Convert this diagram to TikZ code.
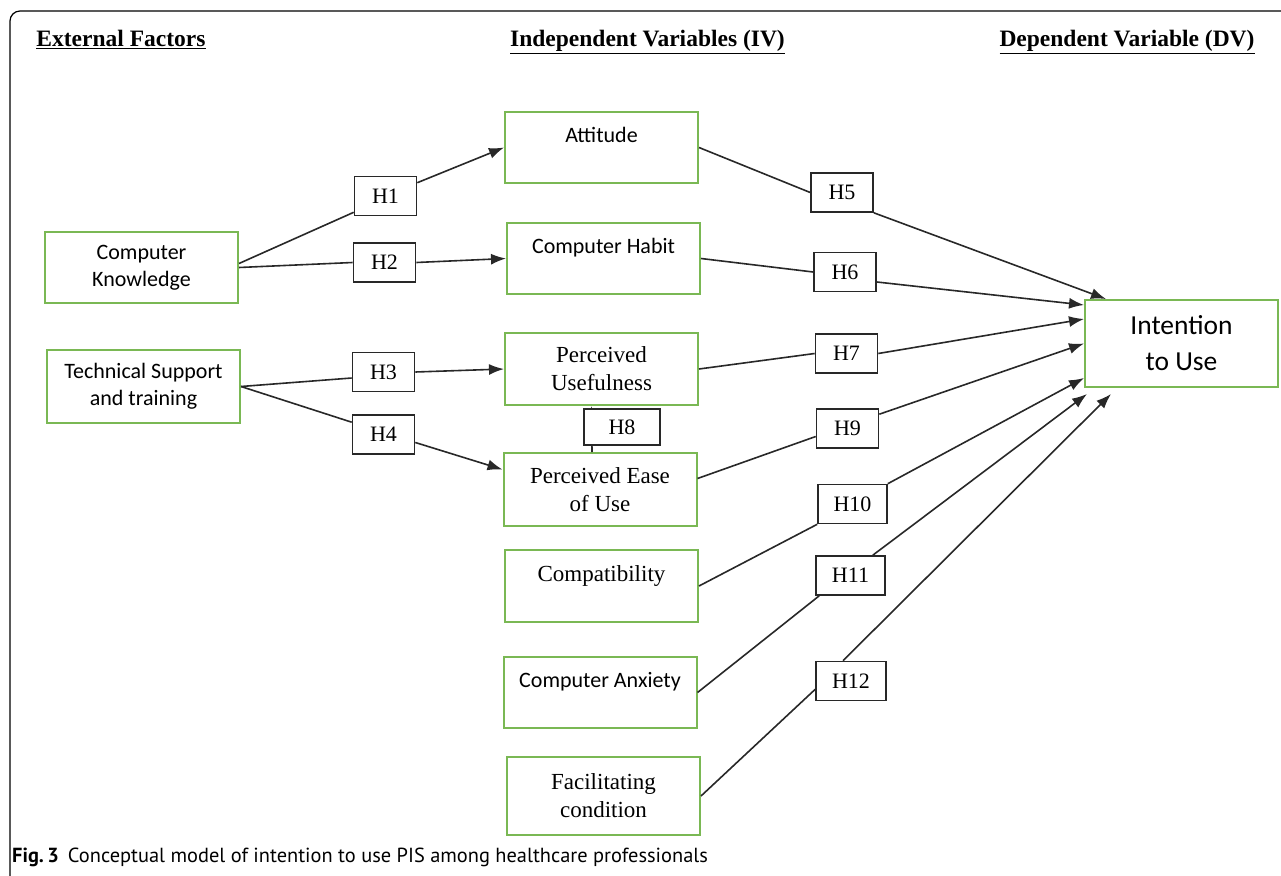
\documentclass[tikz,border=0pt]{standalone}
\usepackage{fontspec}
\setmainfont{Liberation Serif}
\setsansfont{Carlito}
\newfontfamily\capfont{PT Sans}
\usetikzlibrary{arrows.meta}
\definecolor{boxgreen}{RGB}{122,184,84}
\definecolor{linegray}{RGB}{40,40,40}

\begin{document}
\begin{tikzpicture}[x=1pt, y=-1pt,
    var/.style={draw=boxgreen, line width=2pt, fill=white, minimum width=193pt, minimum height=71pt, align=center, inner sep=0pt},
    sansvar/.style={var, font=\sffamily\fontsize{22}{27}\selectfont},
    serifvar/.style={var, font=\rmfamily\fontsize{23}{28}\selectfont},
    oneline/.style={text depth=25pt},
    hyp/.style={draw=linegray, line width=1.6pt, fill=white, minimum width=62pt, minimum height=39pt, inner sep=0pt, font=\rmfamily\fontsize{22}{26}\selectfont},
    link/.style={draw=linegray, line width=1.6pt},
    arr/.style={link, -{Latex[length=15pt,width=11pt]}},
    head/.style={font=\rmfamily\bfseries\fontsize{23.5}{28}\selectfont, anchor=base}]

    \useasboundingbox (0,0) rectangle (1281,875);

    % --- Frame ---
    \draw[line width=1.2pt, rounded corners=10pt] (1282,11) -- (10,11) -- (10,876);

    % --- Column headings ---
    \node[head] (hext) at (121,47) {\underline{External Factors}};
    \node[head] (hind) at (647.5,47) {\underline{Independent Variables (IV)}};
    \node[head] (hdep) at (1127,47) {\underline{Dependent Variable (DV)}};

    % --- External factors ---
    \node[sansvar] (ck) at (141.5,267.5) {Computer\\Knowledge};
    \node[sansvar, minimum height=73pt] (ts) at (143.5,386.5) {Technical Support\\and training};

    % --- Independent variables ---
    \node[sansvar, oneline] (att) at (601.5,147.5) {Attitude};
    \node[sansvar, oneline] (hab) at (603.5,258.5) {Computer Habit};
    \node[serifvar, minimum height=72pt] (pu) at (601.5,369) {Perceived\\Usefulness};
    \node[serifvar, minimum height=73pt] (peou) at (600,489.5) {Perceived Ease\\of Use};
    \node[serifvar, oneline, minimum height=72pt] (comp) at (601.5,586) {Compatibility};
    \node[sansvar, oneline] (anx) at (600,692.5) {Computer Anxiety};
    \node[serifvar, minimum height=78pt] (fac) at (603.5,796) {Facilitating\\condition};

    % --- Dependent variable ---
    \node[var, minimum height=87pt, font=\sffamily\fontsize{27.5}{36}\selectfont] (itu) at (1181.5,343.5) {Intention\\to Use};

    % --- Hypotheses ---
    \node[hyp] (h1) at (385.5,196) {H1};
    \node[hyp] (h2) at (384.5,262.5) {H2};
    \node[hyp] (h3) at (383.5,372) {H3};
    \node[hyp] (h4) at (383.5,434.5) {H4};
    \node[hyp] (h5) at (842,192.5) {H5};
    \node[hyp] (h6) at (845,272) {H6};
    \node[hyp] (h7) at (846.5,353.5) {H7};
    \node[hyp] (h9) at (847.5,428.5) {H9};
    \node[hyp, minimum width=69pt] (h10) at (852.5,504) {H10};
    \node[hyp, minimum width=69pt] (h11) at (850.5,575.5) {H11};
    \node[hyp, minimum width=70pt] (h12) at (851,681) {H12};

    % --- Paths from external factors ---
    \draw[link] ([yshift=4pt]ck.east) -- ([yshift=4pt]h1.south west);
    \draw[arr] ([yshift=-7pt]h1.north east) -- (att.west);
    \draw[link] (ck.east) -- (h2.west);
    \draw[arr] (h2.east) -- (hab.west);
    \draw[link] (ts.east) -- ([yshift=-6pt]h3.west);
    \draw[arr] (h3.east) -- (pu.west);
    \draw[link] (ts.east) -- ([yshift=-8pt]h4.north west);
    \draw[arr] ([yshift=-8pt]h4.east) -- ([yshift=20pt]peou.west);

    % --- Paths to intention ---
    \draw[link] (att.east) -- (h5.west);
    \draw[arr] (h5.south east) -- ([xshift=22pt]itu.north west);
    \draw[link] (hab.east) -- (h6.west);
    \draw[arr] ([yshift=-10pt]h6.east) -- ([yshift=-6pt]itu.north west);
    \draw[link] (pu.east) -- (h7.west);
    \draw[arr] (h7.east) -- ([yshift=-20pt]itu.north west);
    \draw[link] ([yshift=11pt]peou.east) -- ([yshift=-8pt]h9.west);
    \draw[arr] ([yshift=-6pt]h9.north east) -- (itu.west);
    \draw[link] (comp.east) -- (h10.south west);
    \draw[arr] (h10.north east) -- ([yshift=10pt]itu.south west);
    \draw[link] (anx.east) -- ([xshift=4pt]h11.south west);
    \draw[arr] ([xshift=-13pt]h11.north east) -- ([xshift=3pt,yshift=-6pt]itu.south west);
    \draw[link] (fac.east) -- ([yshift=12pt]h12.south west);
    \draw[arr] ([xshift=-8pt]h12.north) -- ([xshift=27pt,yshift=-6pt]itu.south west);

    % --- Ease of use -> usefulness ---
    \draw[arr] ([xshift=-8pt]peou.north) -- ([xshift=-10pt]pu.south);
    \node[hyp, minimum width=76pt, minimum height=36pt] (h8) at (622,427) {H8};

    % --- Caption ---
    \node[anchor=base west, inner sep=0pt, font=\capfont\fontsize{20.4}{24}\selectfont] (cap) at (12,862)
        {\textbf{Fig.\,3}\hspace{9pt}Conceptual model of intention to use PIS among healthcare professionals};

\end{tikzpicture}
\end{document}
